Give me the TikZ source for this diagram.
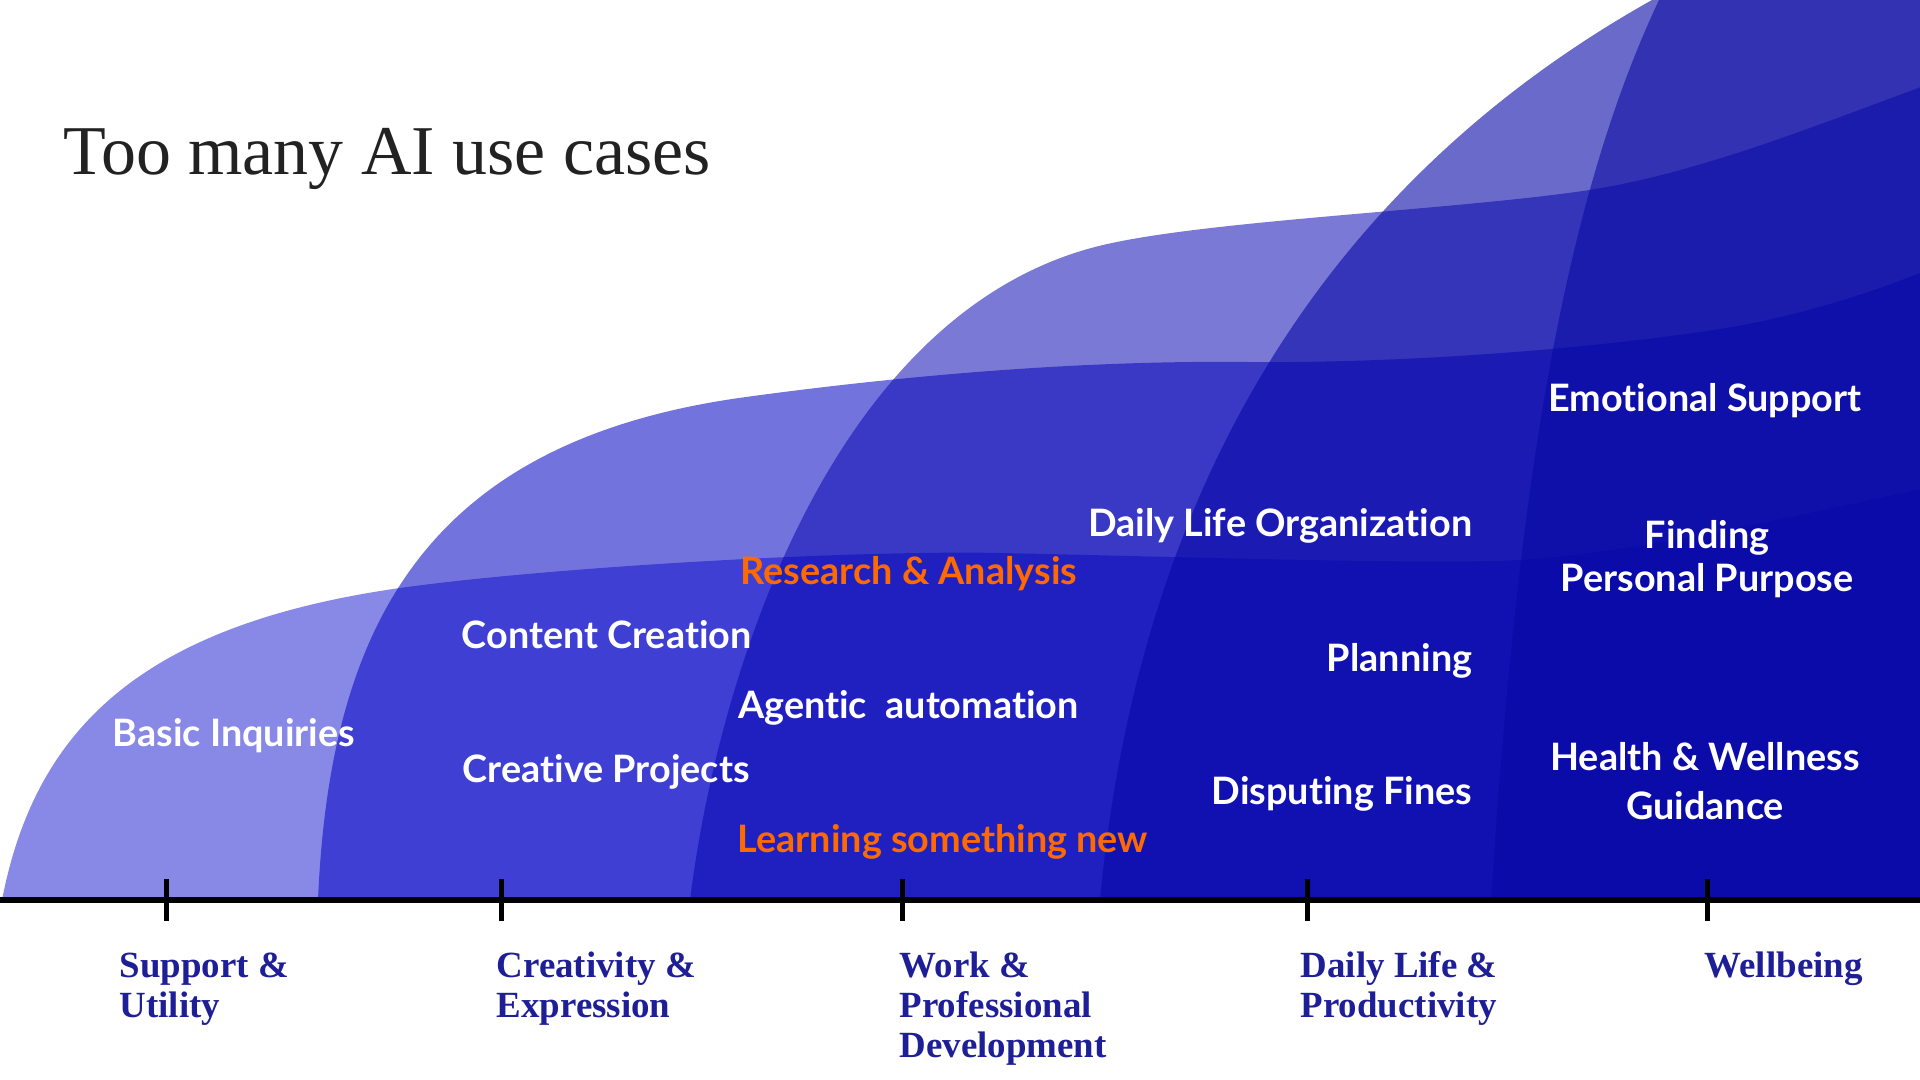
\documentclass[tikz,border=0pt]{standalone}
\usepackage{fontspec}
\setmainfont{Liberation Serif}
\newfontfamily\latofont{Lato}[Ligatures=NoCommon]
\definecolor{titlegray}{HTML}{222222}
\definecolor{areablue}{RGB}{30,30,150}
\definecolor{caseorange}{RGB}{255,106,0}
\definecolor{layerA}{RGB}{6,6,205}
\definecolor{layerB}{RGB}{6,6,196}
\definecolor{layerC}{RGB}{6,6,178}
\definecolor{layerD}{RGB}{6,6,168}
\definecolor{layerE}{RGB}{6,6,162}
\def\layer[#1]#2{\fill[#1] #2 -| (19.4,1.8) -- cycle;}

\begin{document}
\begin{tikzpicture}[
	layer1/.style={fill=layerA, fill opacity=0.48},
	layer2/.style={fill=layerB, fill opacity=0.56},
	layer3/.style={fill=layerC, fill opacity=0.535},
	layer4/.style={fill=layerD, fill opacity=0.6},
	layer5/.style={fill=layerE, fill opacity=0.56},
	case/.style={font=\latofont\bfseries\fontsize{10.75}{13}\selectfont, text=white, inner sep=0pt},
	hotcase/.style={case, text=caseorange},
	area/.style={font=\bfseries\fontsize{10.5}{11.4}\selectfont, text=areablue, align=left, inner sep=0pt, anchor=base west}]
		%%%%% START %%%%%
		\useasboundingbox (0,0) rectangle (19.2,10.8);
		\begin{scope}
		\clip (0,0) rectangle (19.2,10.8);
		
		% support
		\layer[layer1]{(0.02,1.8) .. controls (0.35,3.5) and (1.4,4.55) .. (4.0,4.92)
			.. controls (5.5,5.13) and (8.5,5.3) .. (10.0,5.27)
			.. controls (11.5,5.24) and (14.3,5.15) .. (15.2,5.2)
			.. controls (16.4,5.27) and (18.2,5.7) .. (19.4,5.95)}
		% creativity
		\layer[layer2]{(3.18,1.8) .. controls (3.3,4.6) and (4.3,6.4) .. (7.46,6.83)
			.. controls (8.6,6.985) and (10.5,7.2) .. (12.46,7.18)
			.. controls (14.0,7.165) and (15.8,7.3) .. (17.14,7.5)
			.. controls (18.0,7.63) and (18.8,7.9) .. (19.4,8.15)}
		% work
		\layer[layer3]{(6.9,1.8) .. controls (7.2,4.2) and (8.4,7.8) .. (11.12,8.37)
			.. controls (12.2,8.6) and (14.5,8.7) .. (15.83,8.89)
			.. controls (17.0,9.06) and (18.3,9.6) .. (19.4,10.0)}
		% daily life
		\layer[layer4]{(11.0,1.8) .. controls (11.3,5.0) and (12.6,8.6) .. (16.52,10.8) -- (17.5,11.35)}
		% wellbeing
		\layer[layer5]{(14.91,1.8) .. controls (15.15,5.5) and (15.55,8.6) .. (16.59,10.8) -- (17.0,11.5)}
		\end{scope}
		
		\draw[line width=0.06cm] (0,1.8) -- (19.2,1.8);
		\foreach \x in {1.665,5.01,9.02,13.07,17.07}
			\draw[line width=0.05cm] (\x,2.01) -- (\x,1.59);
		
		\node[anchor=base west, inner sep=0pt, text=titlegray, font=\fontsize{19.9}{22}\selectfont] (title) at (0.625,9.05) {Too many AI use cases};
		
		\node[case, anchor=base west] (basic) at (1.12,3.33) {Basic Inquiries};
		\node[case, anchor=base west] (content) at (4.61,4.31) {Content Creation};
		\node[case, anchor=base west] (creative) at (4.62,2.97) {Creative Projects};
		\node[hotcase, anchor=base west] (research) at (7.40,4.95) {Research \& Analysis};
		\node[case, anchor=base west] (agentic) at (7.375,3.61) {Agentic~ automation};
		\node[hotcase, anchor=base west] (learning) at (7.37,2.27) {Learning something new};
		\node[case, anchor=base east] (organize) at (14.73,5.43) {Daily Life Organization};
		\node[case, anchor=base east] (planning) at (14.73,4.08) {Planning};
		\node[case, anchor=base east] (fines) at (14.73,2.75) {Disputing Fines};
		\node[case, anchor=base] (emotional) at (17.05,6.68) {Emotional Support};
		\node[case, anchor=base, align=center] (purpose) at (17.07,4.88) {Finding\\[-0.5pt]Personal Purpose};
		\node[case, anchor=base, align=center] (health) at (17.05,2.60) {Health \& Wellness\\[1pt]Guidance};
		
		\node[area] (support) at (1.19,0.62) {Support \&\\Utility};
		\node[area] (creativity) at (4.96,0.62) {Creativity \&\\Expression};
		\node[area] (work) at (8.99,0.22) {Work \&\\Professional\\Development};
		\node[area] (daily) at (13.0,0.62) {Daily Life \&\\Productivity};
		\node[area] (wellbeing) at (17.04,1.02) {Wellbeing};
		%%%%% END %%%%%
\end{tikzpicture}
\end{document}
